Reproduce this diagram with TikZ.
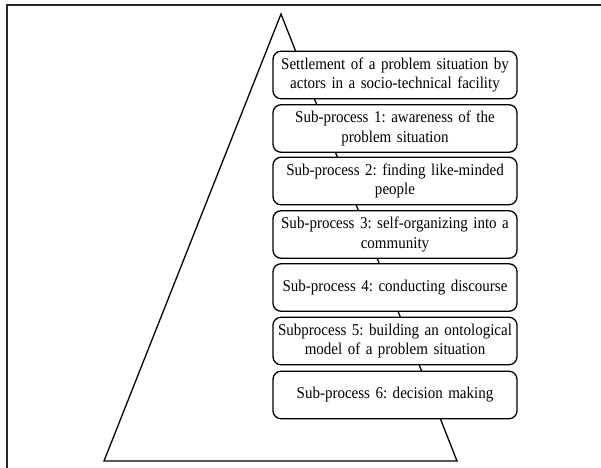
\documentclass[tikz,border=0pt]{standalone}
\usepackage{fontspec}
\setmainfont{Liberation Serif}
\newfontfamily\stagefont[FakeStretch=0.91]{Liberation Serif}
\frenchspacing
\begin{document}
\begin{tikzpicture}[x=1bp,y=-1bp,
  stage/.style={draw=black, line width=1.3bp, rounded corners=8bp, fill=white,
    minimum width=244bp, minimum height=47.5bp, inner sep=0pt,
    text width=238bp, align=center,
    font=\stagefont\fontsize{16.5bp}{19.5bp}\selectfont},
  frameline/.style={draw=black!85, line width=1.6bp},
  pyramid/.style={draw=black, line width=1.3bp, line join=miter}]
  \useasboundingbox (0,0) rectangle (601,468);
  % page frame
  \coordinate (fbl) at (7,468);
  \coordinate (ftl) at (7,5);
  \coordinate (ftr) at (601,5);
  \draw[frameline] (fbl) -- (ftl) -- (ftr);
  % pyramid behind the stages
  \coordinate (apex) at (281,14);
  \coordinate (bl) at (104,461);
  \coordinate (br) at (457,461);
  \draw[pyramid] (apex) -- (bl) -- (br) -- cycle;
  % stages
  \node[stage] (s0) at (395,75)  {Settlement of a problem situation by\\actors in a socio-technical facility};
  \node[stage] (s1) at (395,128.5) {Sub-process 1: awareness of the\\problem situation};
  \node[stage] (s2) at (395,181) {Sub-process 2: finding like-minded\\people};
  \node[stage] (s3) at (395,234.5) {Sub-process 3: self-organizing into a\\community};
  \node[stage] (s4) at (395,287.5) {Sub-process 4: conducting discourse};
  \node[stage] (s5) at (395,341) {Subprocess 5: building an ontological\\model of a problem situation};
  \node[stage] (s6) at (395,395) {Sub-process 6: decision making};
\end{tikzpicture}
\end{document}
